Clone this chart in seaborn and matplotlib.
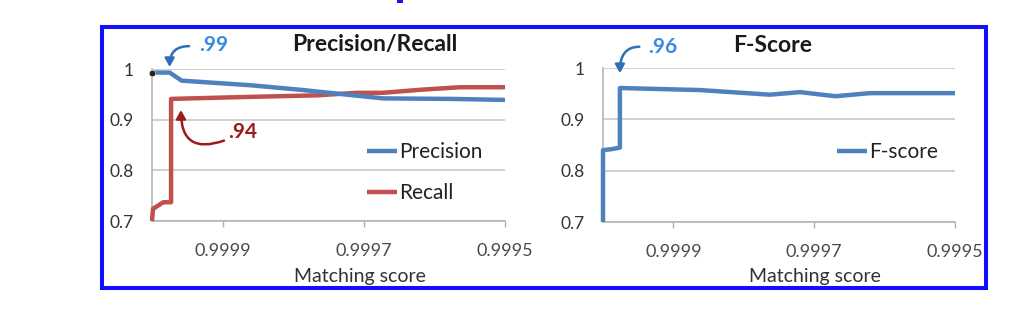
import matplotlib
matplotlib.use("Agg")
import matplotlib.pyplot as plt
import seaborn as sns
from matplotlib.patches import Rectangle

# ---------------- data ----------------
prec_x = [1.0, 0.999975, 0.999958, 0.999861, 0.99979, 0.999673, 0.999578, 0.9995]
prec_y = [0.993, 0.993, 0.977, 0.968, 0.959, 0.942, 0.941, 0.939]

rec_x = [1.0, 0.9999986, 0.999984, 0.999973, 0.999973, 0.999861, 0.999766,
         0.99971, 0.999673, 0.99962, 0.999564, 0.9995]
rec_y = [0.700, 0.724, 0.737, 0.737, 0.941, 0.945, 0.948, 0.953, 0.953,
         0.959, 0.964, 0.964]

f_x = [1.0, 1.0, 0.999987, 0.999976, 0.999976, 0.999947, 0.999862,
       0.999763, 0.99972, 0.99967, 0.999621, 0.9995]
f_y = [0.700, 0.840, 0.842, 0.845, 0.961, 0.960, 0.957, 0.948, 0.953,
       0.945, 0.951, 0.951]

x_ticks = [0.9999, 0.9997, 0.9995]
x_tick_labels = ["0.9999", "0.9997", "0.9995"]
y_ticks = [0.7, 0.8, 0.9, 1.0]
y_tick_labels = ["0.7", "0.8", "0.9", "1"]

titles = ["Precision/Recall", "F-Score"]
x_label = "Matching score"
ann_prec, ann_rec, ann_f = ".99", ".94", ".96"

# ---------------- style ----------------
sns.set_theme(style="white")
plt.rcParams['font.family'] = ['Lato', 'DejaVu Sans']

BLUE = "#4f81bd"
RED = "#c0504d"
GRID = "#c4c4c4"
TXT = "#333333"

W, H = 1018, 325
fig = plt.figure(figsize=(W / 100, H / 100), dpi=100)
fig.patch.set_facecolor("white")

def px_axes(x0, x1, ytop, ybot):
    return [x0 / W, (H - ybot) / H, (x1 - x0) / W, (ybot - ytop) / H]

ax1 = fig.add_axes(px_axes(152, 505, 69, 221))
ax2 = fig.add_axes(px_axes(603, 955, 68, 222))

line_kw = dict(estimator=None, sort=False, linewidth=3.2, clip_on=False)
sns.lineplot(x=prec_x, y=prec_y, ax=ax1, color=BLUE, label="Precision",
             solid_capstyle="butt", zorder=4, **line_kw)
sns.lineplot(x=rec_x, y=rec_y, ax=ax1, color=RED, label="Recall",
             solid_capstyle="butt", zorder=3, **line_kw)
sns.scatterplot(x=prec_x[:1], y=prec_y[:1], ax=ax1, color="#222222", s=22,
                zorder=5, clip_on=False, legend=False)
sns.lineplot(x=f_x, y=f_y, ax=ax2, color=BLUE, label="F-score",
             solid_capstyle="butt", zorder=3, **line_kw)

for ax, title, tx, ty in [(ax1, titles[0], 0.632, 1.158),
                          (ax2, titles[1], 0.483, 1.149)]:
    ax.set_xlim(1.0, 0.9995)
    ax.set_ylim(0.7, 1.0)
    ax.set_xticks(x_ticks)
    ax.set_xticklabels(x_tick_labels)
    ax.set_yticks(y_ticks)
    ax.set_yticklabels(y_tick_labels)
    ax.grid(axis="y", color=GRID, linewidth=1.1)
    ax.grid(axis="x", visible=False)
    ax.set_axisbelow(True)
    for s in ["top", "right"]:
        ax.spines[s].set_visible(False)
    for s in ["left", "bottom"]:
        ax.spines[s].set_color("#b0b0b0")
        ax.spines[s].set_linewidth(1.1)
    ax.tick_params(axis="y", length=0, pad=13, labelsize=12.5, labelcolor=TXT)
    ax.tick_params(axis="x", direction="out", length=4, width=1,
                   color="#b0b0b0", pad=12, labelsize=13, labelcolor="#4a4a4a",
                   bottom=True)
    ax.set_xlabel(x_label, fontsize=14, color=TXT)
    ax.text(tx, ty, title, transform=ax.transAxes, ha="center", va="center",
            fontsize=16.5, fontweight="bold", color="#1a1a1a")
    ax.set_facecolor("white")

ax1.xaxis.set_label_coords(0.589, -0.31)
ax2.xaxis.set_label_coords(0.602, -0.30)

leg_kw = dict(loc="upper left", frameon=False, fontsize=15, handlelength=1.45,
              handletextpad=0.1, labelspacing=1.0, borderpad=0,
              borderaxespad=0)
leg1 = ax1.legend(bbox_to_anchor=(0.609, 0.52), **leg_kw)
leg2 = ax2.legend(bbox_to_anchor=(0.665, 0.52), **leg_kw)
for leg in (leg1, leg2):
    for t in leg.get_texts():
        t.set_color("#222222")

# ---------------- hand-drawn annotations ----------------
ANN_BLUE = "#3a8ae0"
ARR_BLUE = "#2f6fb8"
ANN_RED = "#9c1a1a"
arrow = "-|>,head_length=0.5,head_width=0.28"

# .99 (precision)
ax1.annotate("", xy=(prec_x[1], 1.004), xycoords="data",
             xytext=(14, 15), textcoords="offset points", annotation_clip=False,
             arrowprops=dict(arrowstyle=arrow, color=ARR_BLUE, lw=1.8,
                             shrinkA=0, shrinkB=0, mutation_scale=10,
                             connectionstyle="angle3,angleA=0,angleB=90"))
ax1.annotate(ann_prec, xy=(prec_x[1], 1.004), xycoords="data",
             xytext=(21, 15.5), textcoords="offset points", annotation_clip=False,
             ha="left", va="center", fontsize=15, fontweight="bold",
             color=ANN_BLUE)

# .94 (recall)
ax1.annotate("", xy=(0.999959, 0.919), xycoords="data",
             xytext=(31, -22), textcoords="offset points", annotation_clip=False,
             arrowprops=dict(arrowstyle=arrow, color=ANN_RED, lw=1.8,
                             shrinkA=0, shrinkB=0, mutation_scale=10,
                             connectionstyle="arc3,rad=-0.7"))
ax1.annotate(ann_rec, xy=(0.999959, 0.919), xycoords="data",
             xytext=(34, -16), textcoords="offset points", annotation_clip=False,
             ha="left", va="center", fontsize=15, fontweight="bold",
             color=ANN_RED)

# .96 (f-score)
ax2.annotate("", xy=(f_x[3], 0.99), xycoords="data",
             xytext=(14, 19), textcoords="offset points", annotation_clip=False,
             arrowprops=dict(arrowstyle=arrow, color=ARR_BLUE, lw=1.8,
                             shrinkA=0, shrinkB=0, mutation_scale=10,
                             connectionstyle="angle3,angleA=0,angleB=90"))
ax2.annotate(ann_f, xy=(f_x[3], 0.99), xycoords="data",
             xytext=(20, 19), textcoords="offset points", annotation_clip=False,
             ha="left", va="center", fontsize=15, fontweight="bold",
             color=ANN_BLUE)

# ---------------- frame ----------------
fig.add_artist(Rectangle((102 / W, (H - 288) / H), (985.5 - 102) / W,
                         (288 - 27) / H, transform=fig.transFigure,
                         fill=False, edgecolor="#1010ff", linewidth=2.9))
fig.add_artist(Rectangle((397 / W, (H - 3) / H), 6 / W, 3 / H,
                         transform=fig.transFigure, facecolor="#1010ff",
                         edgecolor="none"))

fig.savefig("out.png", dpi=100, facecolor="white")
